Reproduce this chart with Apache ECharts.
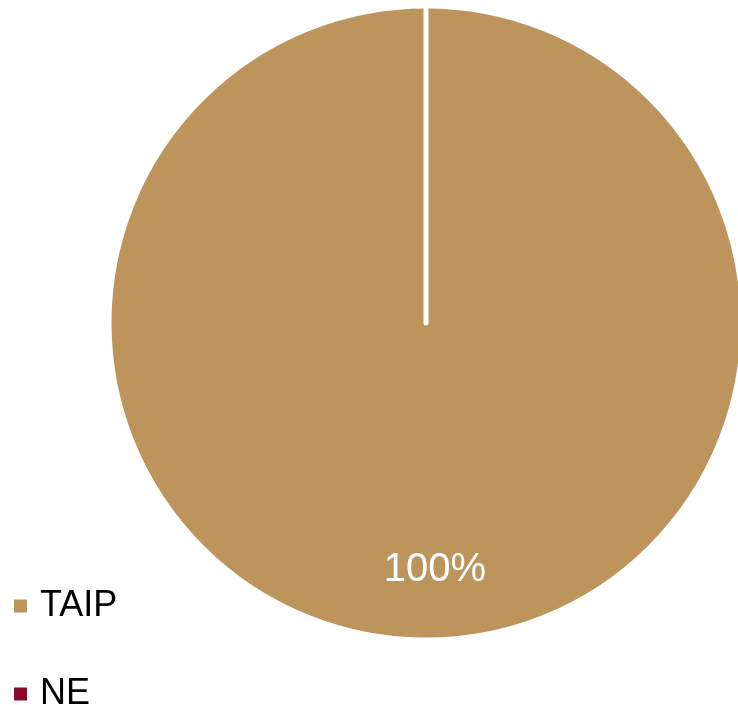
<!DOCTYPE html>
<html>
<head>
<meta charset="utf-8">
<script src="https://cdn.jsdelivr.net/npm/echarts@6/dist/echarts.min.js"></script>
<style>html,body{margin:0;padding:0;background:#fff;}#c{width:738px;height:705px;}</style>
</head>
<body>
<div id="c"></div>
<script>
const categories = ['TAIP', 'NE'];
const values = [100, 0];
const colors = ['#BD955C', '#8A0A2A'];

const chart = echarts.init(document.getElementById('c'), null, {renderer: 'canvas'});
chart.setOption({
  animation: false,
  color: colors,
  legend: {
    orient: 'vertical',
    left: 14,
    top: 588,
    height: 300,
    padding: 0,
    icon: 'rect',
    itemWidth: 13,
    itemHeight: 13,
    itemGap: 52,
    itemStyle: {borderWidth: 0},
    data: categories,
    textStyle: {
      fontFamily: 'Liberation Sans, Arial, sans-serif',
      fontSize: 36,
      lineHeight: 26,
      color: '#000',
      padding: [0, 0, 0, 8]
    }
  },
  series: [{
    type: 'pie',
    center: [426, 323],
    radius: [0, 317],
    startAngle: 90,
    clockwise: true,
    minAngle: 0,
    stillShowZeroSum: true,
    avoidLabelOverlap: false,
    itemStyle: {borderColor: '#fff', borderWidth: 5, borderCap: 'round'},
    label: {
      position: 'inside',
      formatter: function (p) { return p.value > 0 ? Math.round(p.percent) + '%' : ''; },
      color: '#fff',
      fontFamily: 'Liberation Sans, Arial, sans-serif',
      fontSize: 40
    },
    labelLayout: {dx: 9, dy: 85},
    labelLine: {show: false},
    emphasis: {disabled: true},
    data: categories.map((c, i) => ({name: c, value: values[i]}))
  }]
});
</script>
</body>
</html>
